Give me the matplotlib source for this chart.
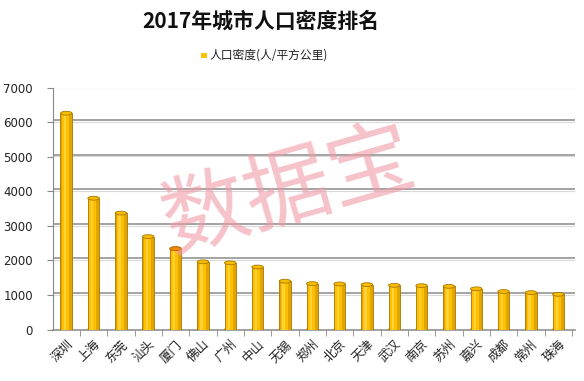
import matplotlib
matplotlib.use("Agg")
import matplotlib.pyplot as plt
from matplotlib.patches import Ellipse
import numpy as np

plt.rcParams['font.family'] = ['Noto Sans CJK SC', 'DejaVu Sans']

cities = ["深圳", "上海", "东莞", "汕头", "厦门", "佛山", "广州", "中山", "无锡", "郑州",
          "北京", "天津", "武汉", "南京", "苏州", "嘉兴", "成都", "常州", "珠海"]
density = [6260, 3800, 3370, 2690, 2340, 1960, 1930, 1810, 1400, 1330,
           1320, 1300, 1280, 1270, 1250, 1180, 1100, 1070, 1020]
yticks = [0, 1000, 2000, 3000, 4000, 5000, 6000, 7000]
title = "2017年城市人口密度排名"
legend_label = "人口密度(人/平方公里)"
watermark = "数据宝"

fig = plt.figure(figsize=(5.84, 3.81), dpi=100)
ax = fig.add_axes([0.090, 0.135, 0.895, 0.635])

x = np.arange(len(cities))
w = 0.42
# cylinder-like shading with layered bars
ax.bar(x, density, width=w, color="#E2A400", edgecolor="#A87800", linewidth=0.6, zorder=3)
ax.bar(x - 0.03, density, width=w * 0.62, color="#FFC000", linewidth=0, zorder=3)
ax.bar(x - 0.05, density, width=w * 0.2, color="#FFD23A", linewidth=0, zorder=3)
for xi, v in zip(x, density):
    ax.add_patch(Ellipse((xi, v), w, 110, facecolor="#F7BC00", edgecolor="#A87800",
                         linewidth=0.6, zorder=4))
    ax.add_patch(Ellipse((xi, 0), w, 110, facecolor="#E2A400", edgecolor="#A87800",
                         linewidth=0.6, zorder=2.9))
# Xiamen highlighted cap
ax.add_patch(Ellipse((x[4], density[4]), w, 110, facecolor="#F08A00", edgecolor="#C06000",
                     linewidth=0.6, zorder=4.1))

ax.set_ylim(0, 7000)
ax.set_xlim(-0.5, len(cities) - 1 + 0.62)
ax.set_yticks(yticks)
ax.set_yticklabels([str(t) for t in yticks], fontsize=8.5, family="DejaVu Sans", color="#222222")
for t in yticks[1:]:
    ax.axhline(t + 60, color="#8A8A8A", linewidth=1.1, zorder=1)
    ax.axhline(t + 10, color="#DADADA", linewidth=0.8, zorder=1)

ax.set_xticks(x + 0.5, minor=True)
ax.set_xticks(x)
ax.set_xticklabels(cities, rotation=45, ha="right", rotation_mode="anchor",
                   fontsize=9, color="#222222")
ax.tick_params(axis="x", which="major", length=0, pad=6)
ax.tick_params(axis="x", which="minor", length=4, color="#888888", direction="out")
ax.tick_params(axis="y", length=4, color="#888888", pad=10)

for s in ["top", "right"]:
    ax.spines[s].set_visible(False)
ax.spines["left"].set_color("#888888")
ax.spines["bottom"].set_color("#888888")
ax.spines["bottom"].set_linewidth(1.1)

fig.text(0.447, 0.945, title, ha="center", va="center", fontsize=15, fontweight="bold", color="#111111")
fig.text(0.358, 0.855, legend_label, ha="left", va="center", fontsize=8.5, color="#222222")
fig.patches.append(plt.Rectangle((0.345, 0.847), 0.009, 0.015, transform=fig.transFigure,
                                 facecolor="#FFC000", edgecolor="none"))

fig.text(0.495, 0.495, watermark, ha="center", va="center", fontsize=62, rotation=16,
         color="#F09AA6", alpha=0.6, zorder=10)

fig.savefig("out.png", dpi=100, facecolor="white")
